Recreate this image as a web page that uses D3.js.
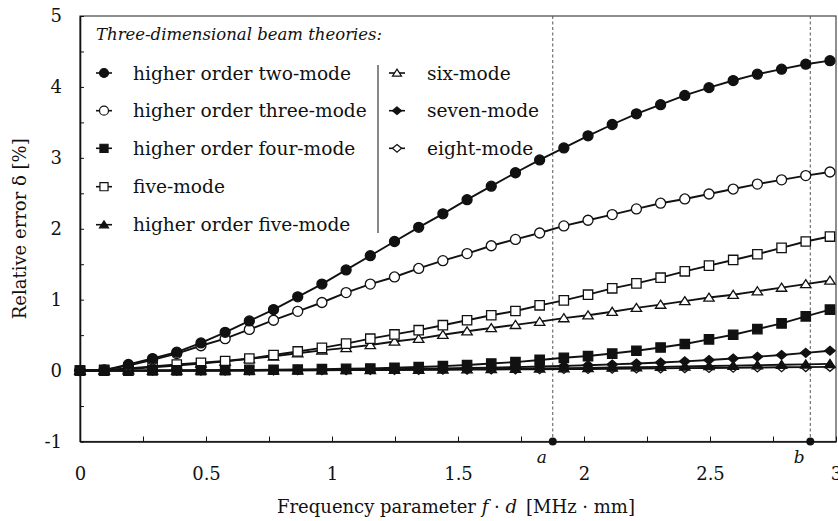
<!DOCTYPE html>
<html>
<head>
<meta charset="utf-8">
<script src="https://cdn.jsdelivr.net/npm/d3@7"></script>
<style>
  body { margin: 0; background: #fff; }
  text { font-family: "DejaVu Serif", serif; fill: #111; }
</style>
</head>
<body>
<svg id="chart"></svg>
<script>
//-------------------------------------------------
// Data
//-------------------------------------------------
var fd = [0, 0.096, 0.192, 0.288, 0.384, 0.48, 0.576, 0.672, 0.768, 0.864,
  0.96, 1.056, 1.152, 1.248, 1.344, 1.44, 1.536, 1.632, 1.728, 1.824,
  1.92, 2.016, 2.112, 2.208, 2.304, 2.4, 2.496, 2.592, 2.688, 2.784, 2.88, 2.976];

var hoTwoMode = [0, 0.007, 0.087, 0.17, 0.26, 0.39, 0.54, 0.70, 0.86, 1.04,
  1.22, 1.42, 1.62, 1.82, 2.02, 2.21, 2.41, 2.60, 2.79, 2.97,
  3.14, 3.31, 3.47, 3.62, 3.75, 3.88, 3.99, 4.09, 4.18, 4.25, 4.32, 4.37];
var hoThreeMode = [0, 0.01, 0.07, 0.15, 0.24, 0.35, 0.45, 0.58, 0.71, 0.835,
  0.96, 1.10, 1.22, 1.32, 1.44, 1.55, 1.65, 1.76, 1.85, 1.94,
  2.04, 2.12, 2.20, 2.28, 2.36, 2.42, 2.49, 2.56, 2.63, 2.69, 2.75, 2.80];
var hoFourMode = [0, 0, 0, 0.002, 0.003, 0.005, 0.007, 0.01, 0.012, 0.015,
  0.02, 0.025, 0.03, 0.04, 0.05, 0.063, 0.078, 0.10, 0.12, 0.15,
  0.18, 0.205, 0.24, 0.28, 0.325, 0.375, 0.44, 0.505, 0.585, 0.665, 0.765, 0.86];
var fiveMode = [0, 0.01, 0.03, 0.06, 0.085, 0.11, 0.135, 0.17, 0.22, 0.27,
  0.32, 0.38, 0.45, 0.51, 0.57, 0.64, 0.71, 0.78, 0.84, 0.92,
  0.99, 1.07, 1.16, 1.23, 1.31, 1.40, 1.48, 1.56, 1.64, 1.73, 1.82, 1.89];
var hoFiveMode = [0, 0, 0, 0, 0, 0, 0.002, 0.003, 0.004, 0.005,
  0.006, 0.008, 0.01, 0.012, 0.014, 0.017, 0.02, 0.023, 0.026, 0.03,
  0.034, 0.038, 0.043, 0.048, 0.053, 0.058, 0.064, 0.07, 0.076, 0.082, 0.088, 0.095];
var sixMode = [0, 0.005, 0.02, 0.045, 0.07, 0.10, 0.13, 0.165, 0.20, 0.245,
  0.285, 0.32, 0.36, 0.41, 0.45, 0.505, 0.555, 0.60, 0.645, 0.69,
  0.74, 0.78, 0.83, 0.885, 0.93, 0.98, 1.03, 1.07, 1.12, 1.17, 1.22, 1.27];
var sevenMode = [0, 0, 0, 0, 0.001, 0.002, 0.003, 0.004, 0.006, 0.008,
  0.01, 0.013, 0.016, 0.02, 0.025, 0.03, 0.036, 0.042, 0.049, 0.057,
  0.066, 0.076, 0.087, 0.10, 0.115, 0.13, 0.15, 0.17, 0.195, 0.22, 0.25, 0.28];
var eightMode = [0, 0, 0, 0, 0, 0, 0.001, 0.002, 0.003, 0.004,
  0.005, 0.006, 0.007, 0.008, 0.01, 0.012, 0.013, 0.015, 0.017, 0.019,
  0.021, 0.023, 0.025, 0.028, 0.031, 0.034, 0.037, 0.04, 0.043, 0.046, 0.049, 0.052];

var seriesNames = ["higher order two-mode", "higher order three-mode", "higher order four-mode",
  "five-mode", "higher order five-mode", "six-mode", "seven-mode", "eight-mode"];
var seriesValues = [hoTwoMode, hoThreeMode, hoFourMode, fiveMode, hoFiveMode, sixMode, sevenMode, eightMode];
var seriesMarkers = ["circle", "circle", "square", "square", "triangle", "triangle", "diamond", "diamond"];
var seriesFilled = [true, false, true, false, true, false, true, false];

var xTicks = [0, 0.25, 0.5, 0.75, 1, 1.25, 1.5, 1.75, 2, 2.25, 2.5, 2.75, 3];
var yTicks = [-1, -0.5, 0, 0.5, 1, 1.5, 2, 2.5, 3, 3.5, 4, 4.5, 5];
var refPoints = [1.876, 2.898];
var refLabels = ["a", "b"];
//-------------------------------------------------

var width = 838, height = 521;
var margin = {top: 16, right: 2, bottom: 79.5, left: 80};

var svg = d3.select("#chart")
  .attr("width", width)
  .attr("height", height);

var x = d3.scaleLinear().domain([0, 3]).range([margin.left, width - margin.right]);
var y = d3.scaleLinear().domain([-1, 5]).range([height - margin.bottom, margin.top]);

// frame
svg.append("rect")
  .attr("x", x(0)).attr("y", y(5))
  .attr("width", x(3) - x(0)).attr("height", y(-1) - y(5))
  .attr("fill", "none")
  .attr("stroke", "#444")
  .attr("stroke-width", 1.2);

// reference lines a, b
refPoints.forEach(function(p, i) {
  svg.append("line")
    .attr("x1", x(p)).attr("x2", x(p))
    .attr("y1", y(5)).attr("y2", y(-1))
    .attr("stroke", "#555")
    .attr("stroke-width", 1)
    .attr("stroke-dasharray", "3,2.5");
  svg.append("circle")
    .attr("cx", x(p)).attr("cy", y(-1))
    .attr("r", 4).attr("fill", "#111");
  svg.append("text")
    .attr("x", x(p) - 11).attr("y", y(-1) + 21)
    .attr("font-size", 17)
    .attr("font-style", "italic")
    .attr("text-anchor", "middle")
    .text(refLabels[i]);
});

// axes
var xAxis = d3.axisBottom(x)
  .tickValues(xTicks)
  .tickSizeInner(-5).tickSizeOuter(0)
  .tickPadding(26)
  .tickFormat(function(d) { return (d * 2) % 1 === 0 ? String(d) : ""; });
var gx = svg.append("g")
  .attr("transform", "translate(0," + y(-1) + ")")
  .call(xAxis);

var yAxis = d3.axisLeft(y)
  .tickValues(yTicks)
  .tickSizeInner(-4).tickSizeOuter(0)
  .tickPadding(18)
  .tickFormat(function(d) { return Number.isInteger(d) ? String(d).replace("\u2212", "-") : ""; });
var gy = svg.append("g")
  .attr("transform", "translate(" + x(0) + ",0)")
  .call(yAxis);

[gx, gy].forEach(function(g) {
  g.select(".domain").attr("stroke", "#111").attr("stroke-width", 1.6);
  g.selectAll(".tick line").attr("stroke", "#111").attr("stroke-width", 1);
  g.selectAll(".tick text")
    .attr("font-family", "DejaVu Serif, serif")
    .attr("font-size", 18)
    .attr("fill", "#111");
});

// axis titles
svg.append("text")
  .attr("transform", "translate(26," + ((y(5) + y(-1)) / 2) + ") rotate(-90)")
  .attr("text-anchor", "middle")
  .attr("font-size", 18)
  .text("Relative error \u03b4 [%]");

var xl = svg.append("text")
  .attr("x", 456).attr("y", 513)
  .attr("text-anchor", "middle")
  .attr("font-size", 18);
xl.append("tspan").text("Frequency parameter ");
xl.append("tspan").attr("font-style", "italic").text("f");
xl.append("tspan").text(" \u00b7 ");
xl.append("tspan").attr("font-style", "italic").text("d");
xl.append("tspan").text("\u2002[MHz \u00b7 mm]");

// markers
function markerPath(type, s) {
  if (type === "circle") {
    return "M" + (-s) + ",0A" + s + "," + s + " 0 1,0 " + s + ",0A" + s + "," + s + " 0 1,0 " + (-s) + ",0Z";
  }
  if (type === "square") {
    var h = s * 0.9;
    return "M" + (-h) + "," + (-h) + "H" + h + "V" + h + "H" + (-h) + "Z";
  }
  if (type === "triangle") {
    return "M0," + (-s * 0.85) + "L" + s + "," + (s * 0.7) + "L" + (-s) + "," + (s * 0.7) + "Z";
  }
  // diamond
  return "M0," + (-s * 0.85) + "L" + s + ",0L0," + (s * 0.85) + "L" + (-s) + ",0Z";
}

var line = d3.line()
  .x(function(d) { return x(d[0]); })
  .y(function(d) { return y(d[1]); });

for (var k = seriesValues.length - 1; k >= 0; k--) {
  var pts = fd.map(function(f, i) { return [f, seriesValues[k][i]]; });
  var g = svg.append("g").attr("class", "series");
  g.append("path")
    .datum(pts)
    .attr("d", line)
    .attr("fill", "none")
    .attr("stroke", "#111")
    .attr("stroke-width", 1.9);
  g.selectAll("path.mk")
    .data(pts)
    .enter()
    .append("path")
    .attr("class", "mk")
    .attr("transform", function(d) { return "translate(" + x(d[0]) + "," + y(d[1]) + ")"; })
    .attr("d", markerPath(seriesMarkers[k], seriesMarkers[k] === "circle" ? 5 : 5.2))
    .attr("fill", seriesFilled[k] ? "#111" : "#fff")
    .attr("stroke", "#111")
    .attr("stroke-width", 1.3);
}

// legend
var legend = svg.append("g").attr("class", "legend");
legend.append("text")
  .attr("x", 96).attr("y", 40)
  .attr("font-size", 16.5)
  .attr("font-style", "italic")
  .text("Three-dimensional beam theories:");

var rowY = [73, 110.7, 148.3, 186.7, 224.7];
seriesNames.forEach(function(name, i) {
  var col = i < 5 ? 0 : 1;
  var row = i < 5 ? i : i - 5;
  var mx = col === 0 ? 104 : 397;
  var tx = col === 0 ? 133 : 427;
  legend.append("line")
    .attr("x1", mx - 8).attr("x2", mx + 8)
    .attr("y1", rowY[row]).attr("y2", rowY[row])
    .attr("stroke", "#111").attr("stroke-width", 1.6);
  legend.append("path")
    .attr("transform", "translate(" + mx + "," + rowY[row] + ")")
    .attr("d", markerPath(seriesMarkers[i], 4.5))
    .attr("fill", seriesFilled[i] ? "#111" : "#fff")
    .attr("stroke", "#111")
    .attr("stroke-width", 1.2);
  legend.append("text")
    .attr("x", tx).attr("y", rowY[row] + 6.5)
    .attr("font-size", 18.6)
    .text(name);
});

legend.append("line")
  .attr("x1", 378).attr("x2", 378)
  .attr("y1", 65).attr("y2", 233)
  .attr("stroke", "#111").attr("stroke-width", 1);
</script>
</body>
</html>
